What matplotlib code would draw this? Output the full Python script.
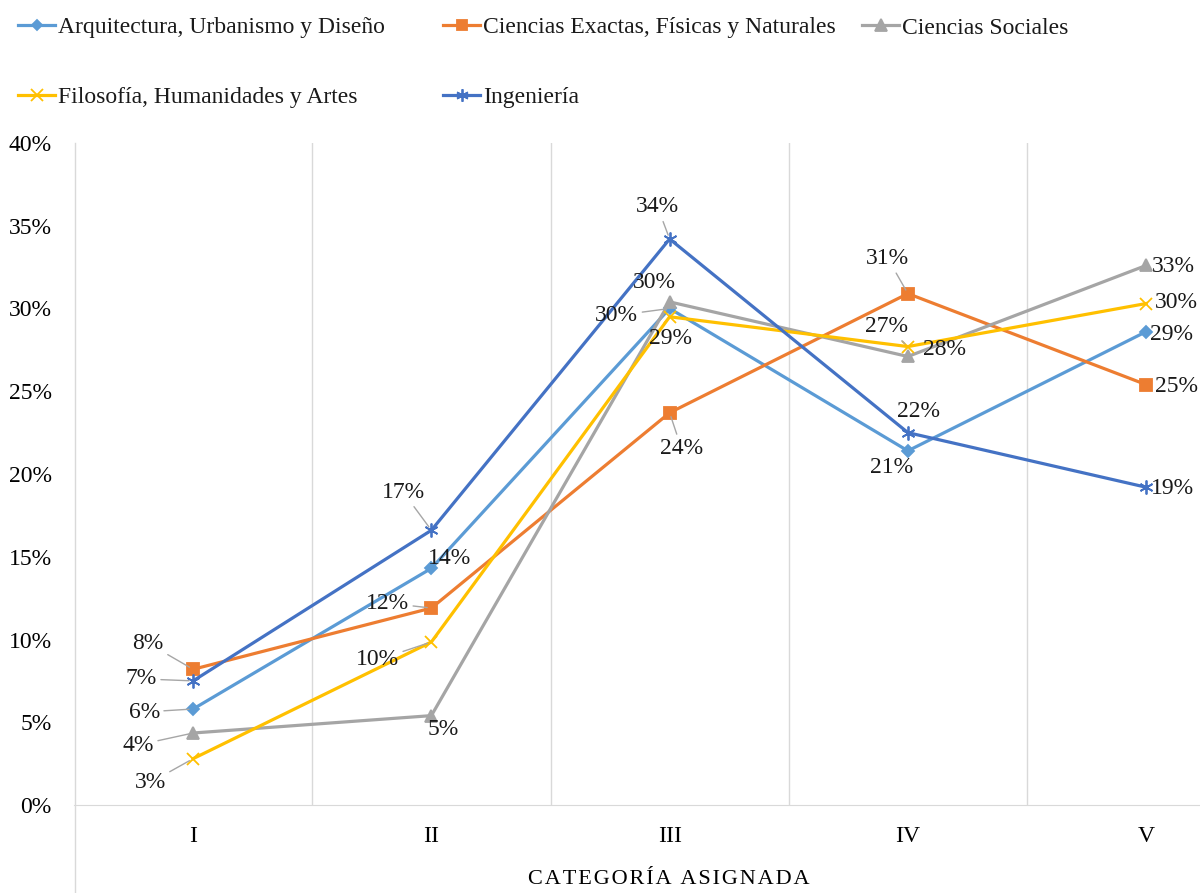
import matplotlib
matplotlib.use("Agg")
import matplotlib.pyplot as plt
from matplotlib.lines import Line2D

plt.rcParams['font.family'] = ['Liberation Serif', 'DejaVu Serif']

categories = ["I", "II", "III", "IV", "V"]
series_names = [
    "Arquitectura, Urbanismo y Diseño",
    "Ciencias Exactas, Físicas y Naturales",
    "Ciencias Sociales",
    "Filosofía, Humanidades y Artes",
    "Ingeniería",
]
arquitectura = [5.8, 14.3, 30.0, 21.4, 28.6]
exactas = [8.2, 11.9, 23.7, 30.9, 25.4]
sociales = [4.35, 5.4, 30.4, 27.1, 32.6]
filosofia = [2.8, 9.85, 29.5, 27.7, 30.3]
ingenieria = [7.5, 16.6, 34.2, 22.5, 19.2]

label_arq = ["6%", "14%", "30%", "21%", "29%"]
label_exa = ["8%", "12%", "24%", "31%", "25%"]
label_soc = ["4%", "5%", "30%", "28%", "33%"]
label_fil = ["3%", "10%", "29%", "27%", "30%"]
label_ing = ["7%", "17%", "34%", "22%", "19%"]

y_ticks = [0, 5, 10, 15, 20, 25, 30, 35, 40]

# styles
colors = ["#5B9BD5", "#ED7D31", "#A5A5A5", "#FFC000", "#4472C4"]
markers = ["D", "s", "^", "x", (6, 2, 0)]
msizes = [6, 8, 9, 9, 10]
# label offsets in pixels (dx, dy) and whether a leader line is drawn
offs = [
    [(-49, -3, True), (18, 10, False), (-53, -7, True), (-16, -17, False), (25, -3, False)],
    [(-45, 26, True), (-44, 5, True), (12, -36, True), (-20, 35, True), (30, -2, False)],
    [(-55, -12, True), (12, -14, False), (-15, 19, False), (37, 7, False), (27, -1, False)],
    [(-43, -24, True), (-54, -18, True), (1, -22, False), (-21, 20, True), (30, 1, False)],
    [(-52, 2, True), (-28, 38, True), (-12, 32, True), (11, 21, False), (26, -1, False)],
]

W, H = 1200, 893
FS = 17
fig = plt.figure(figsize=(12, 8.93), dpi=100)
ax = fig.add_axes([74 / W, (H - 805) / H, (W - 74) / W, (805 - 143) / H])

x = list(range(len(categories)))
all_series = [arquitectura, exactas, sociales, filosofia, ingenieria]
all_labels = [label_arq, label_exa, label_soc, label_fil, label_ing]

for s, labs, c, m, ms, of in zip(all_series, all_labels, colors, markers, msizes, offs):
    yv = [v / 100 for v in s]
    ax.plot(x, yv, color=c, lw=2.3, marker=m, markersize=ms,
            markeredgecolor=c, markerfacecolor=c, markeredgewidth=1.3, zorder=3, clip_on=False)
    for xi, yi, lab, (dx, dy, lead) in zip(x, yv, labs, of):
        if lead:
            ax.annotate(lab, (xi, yi), xytext=(dx, dy), textcoords='offset pixels',
                        ha='center', va='center', fontsize=FS, color='#1a1a1a',
                        arrowprops=dict(arrowstyle='-', color='#A6A6A6', lw=1,
                                        shrinkA=1, shrinkB=3), zorder=4)
        else:
            ax.annotate(lab, (xi, yi), xytext=(dx, dy), textcoords='offset pixels',
                        ha='center', va='center', fontsize=FS, color='#1a1a1a', zorder=4)

ax.set_xlim(-0.5, -0.5 + (W - 74) / 238.25)
ax.set_ylim(0, 0.40)
ax.set_yticks([t / 100 for t in y_ticks])
ax.set_yticklabels([f"{t}%" for t in y_ticks])
ax.set_xticks(x)
ax.set_xticklabels(categories)
ax.set_xticks([i + 0.5 for i in range(4)], minor=True)
ax.grid(True, which='minor', axis='x', color='#D9D9D9', lw=1)
ax.tick_params(which='both', length=0)
ax.tick_params(axis='y', labelsize=FS, pad=16)
ax.tick_params(axis='x', labelsize=FS, pad=15)
for sp in ['top', 'right', 'left']:
    ax.spines[sp].set_visible(False)
ax.spines['bottom'].set_color('#D9D9D9')
ax.set_xlabel("C\u200aA\u200aT\u200aE\u200aG\u200aO\u200aR\u200aÍ\u200aA  A\u200aS\u200aI\u200aG\u200aN\u200aA\u200aD\u200aA",
              fontsize=16, va='center')
ax.xaxis.set_label_coords((669 - 74) / (W - 74), -(880 - 805) / (805 - 143))

# left axis line extending below plot
fig.add_artist(Line2D([74.5 / W, 74.5 / W], [0, (H - 143) / H], color='#D9D9D9', lw=1))

# legend (manual)
leg_pos = [(18, 25), (443, 25), (862, 25), (18, 95), (443, 95)]
for name, c, m, ms, (lx, ly) in zip(series_names, colors, markers, msizes, leg_pos):
    fy = (H - ly) / H
    fig.add_artist(Line2D([lx / W, (lx + 37) / W], [fy, fy], color=c, lw=2.3))
    fig.add_artist(Line2D([(lx + 18.5) / W], [fy], color=c, marker=m, markersize=ms - 1,
                          markeredgecolor=c, markerfacecolor=c, markeredgewidth=1.3))
    fig.text((lx + 40) / W, (H - ly - 3) / H, name, ha='left', va='center', fontsize=17, color='#1a1a1a')

fig.savefig("out.png", dpi=100)
